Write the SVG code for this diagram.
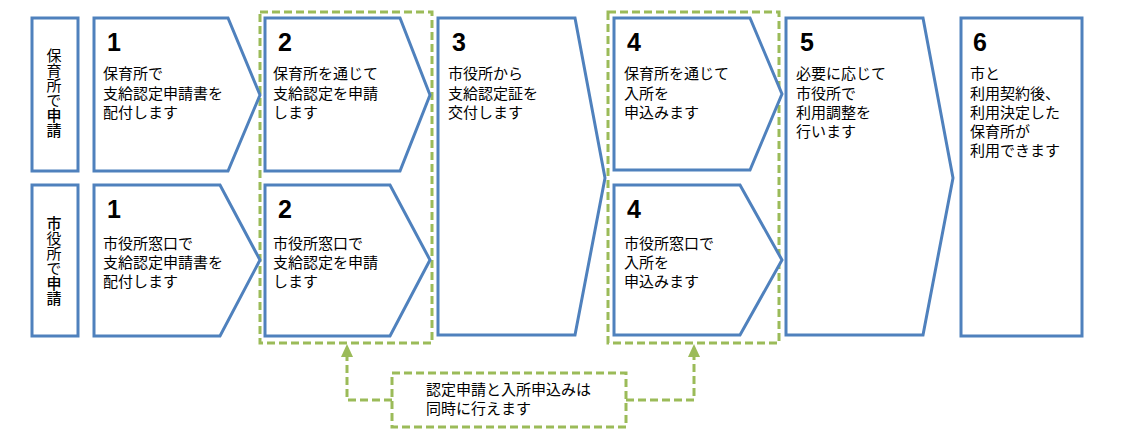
<svg xmlns="http://www.w3.org/2000/svg" width="1134" height="438" viewBox="0 0 1134 438">
<defs>
<style>
.blk{fill:#fff;stroke:#4F81BD;stroke-width:3;stroke-linejoin:miter}
.grp{fill:none;stroke:#9BBB59;stroke-width:3;stroke-dasharray:8 4}
.num{font-family:"Liberation Sans",Arial,sans-serif;font-weight:bold;font-size:25px;fill:#000}
.txt{font-family:"Noto Sans CJK JP","Noto Sans CJK SC",sans-serif;font-size:15px;fill:#000}
.vt{font-family:"Noto Sans CJK JP","Noto Sans CJK SC",sans-serif;font-size:15px;fill:#000;writing-mode:vertical-rl}
.b{font-weight:500}
.con{fill:none;stroke:#9BBB59;stroke-width:3;stroke-dasharray:8 4}
</style>
</defs>
<rect width="1134" height="438" fill="#fff"/>

<g id="groups">
<rect class="grp" x="260" y="12" width="172" height="331"/>
<rect class="grp" x="608" y="12" width="171" height="331"/>
</g>

<g id="label-hoikusho">
<rect class="blk" x="32" y="18" width="46" height="153"/>
<text class="vt" x="54" y="48">保育所で<tspan class="b">申請</tspan></text>
</g>

<g id="label-shiyakusho">
<rect class="blk" x="32" y="185" width="46" height="151"/>
<text class="vt" x="54" y="216"><tspan class="b">市</tspan>役所で<tspan class="b">申請</tspan></text>
</g>

<g id="step1-top">
<polygon class="blk" points="94,18 228,18 260,95 228,171 94,171"/>
<text class="num" x="107" y="51">1</text>
<text class="txt"><tspan x="103" y="79">保育所で</tspan><tspan x="103" y="99">支給認定申請書を</tspan><tspan x="103" y="118">配付します</tspan></text>
</g>

<g id="step1-bottom">
<polygon class="blk" points="94,185 220,185 260,260 220,336 94,336"/>
<text class="num" x="107" y="218">1</text>
<text class="txt"><tspan x="103" y="249">市役所窓口で</tspan><tspan x="103" y="268">支給認定申請書を</tspan><tspan x="103" y="287">配付します</tspan></text>
</g>

<g id="step2-top">
<polygon class="blk" points="265,18 400,18 430,95 400,171 265,171"/>
<text class="num" x="278" y="51">2</text>
<text class="txt"><tspan x="273" y="79">保育所を通じて</tspan><tspan x="273" y="99">支給認定を申請</tspan><tspan x="273" y="118">します</tspan></text>
</g>

<g id="step2-bottom">
<polygon class="blk" points="265,185 390,185 430,260 390,336 265,336"/>
<text class="num" x="278" y="218">2</text>
<text class="txt"><tspan x="273" y="249">市役所窓口で</tspan><tspan x="273" y="268">支給認定を申請</tspan><tspan x="273" y="287">します</tspan></text>
</g>

<g id="step3">
<polygon class="blk" points="438,18 575,18 605,178 575,335 438,335"/>
<text class="num" x="452" y="51">3</text>
<text class="txt"><tspan x="448" y="79">市役所から</tspan><tspan x="448" y="99">支給認定証を</tspan><tspan x="448" y="118">交付します</tspan></text>
</g>

<g id="step4-top">
<polygon class="blk" points="614,18 750,18 782,94 750,170 614,170"/>
<text class="num" x="627" y="51">4</text>
<text class="txt"><tspan x="624" y="79">保育所を通じて</tspan><tspan x="624" y="99">入所を</tspan><tspan x="624" y="118">申込みます</tspan></text>
</g>

<g id="step4-bottom">
<polygon class="blk" points="614,185 740,185 782,260 740,335 614,335"/>
<text class="num" x="627" y="218">4</text>
<text class="txt"><tspan x="624" y="249">市役所窓口で</tspan><tspan x="624" y="268">入所を</tspan><tspan x="624" y="287">申込みます</tspan></text>
</g>

<g id="step5">
<polygon class="blk" points="786,18 923,18 953,178 923,335 786,335"/>
<text class="num" x="800" y="51">5</text>
<text class="txt"><tspan x="796" y="79">必要に応じて</tspan><tspan x="796" y="99">市役所で</tspan><tspan x="796" y="118">利用調整を</tspan><tspan x="796" y="137">行います</tspan></text>
</g>

<g id="step6">
<rect class="blk" x="961" y="18" width="121" height="318"/>
<text class="num" x="973" y="51">6</text>
<text class="txt"><tspan x="970" y="79">市と</tspan><tspan x="970" y="99">利用契約後、</tspan><tspan x="970" y="118">利用決定した</tspan><tspan x="970" y="137">保育所が</tspan><tspan x="970" y="156">利用できます</tspan></text>
</g>

<g id="note">
<rect class="grp" x="392" y="373" width="234" height="54"/>
<text class="txt"><tspan x="426" y="395">認定申請と入所申込みは</tspan><tspan x="426" y="414">同時に行えます</tspan></text>
</g>

<g id="connectors">
<polyline class="con" points="392,400 347,400 347,356"/>
<polygon points="347,344 341,357 353,357" fill="#9BBB59"/>
<polyline class="con" points="626,400 694,400 694,356"/>
<polygon points="694,344 688,357 700,357" fill="#9BBB59"/>
</g>
</svg>
